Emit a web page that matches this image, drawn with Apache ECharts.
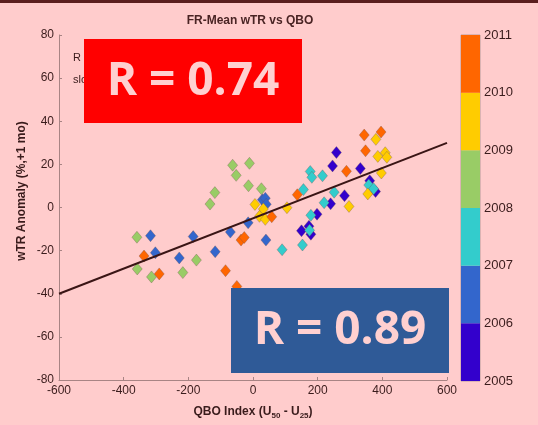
<!DOCTYPE html>
<html>
<head>
<meta charset="utf-8">
<script src="https://cdn.jsdelivr.net/npm/echarts@6/dist/echarts.min.js"></script>
<style>
html, body { margin: 0; padding: 0; background: #ffcccc; }
#chart { width: 538px; height: 425px; }
</style>
</head>
<body>
<div id="chart"></div>
<script>
// colour bar: year boundaries and the colour of each band (bottom to top)
var years = [2005, 2006, 2007, 2008, 2009, 2010, 2011];
var yearColors = ["#3300cc", "#3366cc", "#33cccc", "#99cc66", "#ffcc00", "#ff6600"];

// QBO index vs wTR anomaly, one array per year band
var pts2005 = [[150, -10.8], [173, -8.7], [179, -12.4], [198, -3.1], [240, 1.7], [246, 19.3],
               [258, 25.5], [283, 5.5], [332, 18.1], [361, 12.4], [379, 7.4]];
var pts2006 = [[-317, -13.1], [-302, -21.0], [-228, -23.4], [-185, -13.5], [-117, -20.5], [-70, -11.4],
               [-15, -7.1], [29, 3.6], [38, 4.3], [41, 1.5], [40, -15.1]];
var pts2007 = [[90, -19.6], [153, -17.4], [156, 8.3], [177, 16.7], [182, 14.0], [215, 14.7],
               [251, 7.1], [220, 2.2], [179, -3.6], [175, -10.6], [358, 10.4], [373, 8.7]];
var pts2008 = [[-359, -13.8], [-358, -28.5], [-314, -32.2], [-217, -30.2], [-175, -24.4], [-133, 1.6],
               [-118, 6.9], [-63, 19.6], [-52, 14.9], [-11, 20.5], [-14, 10.1], [26, 8.7]];
var pts2009 = [[6, 1.4], [32, -0.7], [20, -4.1], [38, -5.5], [105, -0.1], [297, 0.5],
               [380, 31.6], [386, 23.7], [409, 25.4], [414, 23.3], [397, 16.0], [355, 6.3]];
var pts2010 = [[-337, -22.5], [-290, -30.8], [-85, -29.3], [-50, -36.6], [-37, -15.1], [-27, -13.9],
               [58, -4.3], [137, 5.9], [289, 16.8], [344, 33.6], [396, 35.0], [348, 26.3]];
var groups = [pts2005, pts2006, pts2007, pts2008, pts2009, pts2010];

// regression line end points
var fitX = [-600, 600];
var fitY = [-40, 30];

var xTicks = [-600, 600, 200];
var yTicks = [-80, 80, 20];

var chart = echarts.init(document.getElementById("chart"));

var txt = "#3a1c1c";
var axisCol = "#a88484";

var series = [];
groups.forEach(function (g, i) {
    series.push({
        type: "scatter",
        xAxisIndex: 0,
        yAxisIndex: 0,
        symbol: "diamond",
        symbolSize: [10, 12],
        itemStyle: { color: yearColors[i], opacity: 1, borderColor: "rgba(110,80,80,0.55)", borderWidth: 0.6 },
        data: g,
        z: 3
    });
});
series.push({
    type: "line",
    xAxisIndex: 0,
    yAxisIndex: 0,
    data: fitX.map(function (x, i) { return [x, fitY[i]]; }),
    symbol: "none",
    lineStyle: { color: "#3a1515", width: 2 },
    z: 4
});

var bands = [];
for (var i = 0; i < yearColors.length; i++) bands.push([years[i], years[i + 1], yearColors[i]]);
series.push({
    type: "custom",
    xAxisIndex: 1,
    yAxisIndex: 1,
    data: bands,
    renderItem: function (params, api) {
        var p0 = api.coord([0, api.value(0)]);
        var p1 = api.coord([1, api.value(1)]);
        return {
            type: "rect",
            shape: { x: p0[0], y: p1[1], width: p1[0] - p0[0], height: p0[1] - p1[1] },
            style: { fill: api.value(2) }
        };
    },
    encode: { x: -1, y: [0, 1] }
});

chart.setOption({
    backgroundColor: "#ffcccc",
    animation: false,
    title: {
        text: "FR-Mean wTR vs QBO",
        left: 245,
        textAlign: "center",
        top: 10,
        textStyle: { fontFamily: "Liberation Sans", fontSize: 12, fontWeight: "bold", color: "#4a2424" }
    },
    grid: [
        { left: 59, right: 91, top: 35, bottom: 45 },
        { left: 461, width: 19, top: 35, height: 346, show: true, borderColor: "#b89a9a", borderWidth: 1 }
    ],
    xAxis: [{
        type: "value",
        gridIndex: 0,
        min: xTicks[0], max: xTicks[1], interval: xTicks[2],
        name: "{b|QBO Index (U}{s|50}{b| - U}{s|25}{b|)}",
        nameLocation: "middle",
        nameGap: 24,
        nameTextStyle: {
            rich: {
                b: { fontFamily: "Liberation Sans", fontSize: 12, fontWeight: "bold", color: txt },
                s: { fontFamily: "Liberation Sans", fontSize: 8, fontWeight: "bold", color: txt, padding: [8, 0, 0, 0] }
            }
        },
        axisLine: { onZero: false, lineStyle: { color: axisCol } },
        axisTick: { inside: true, length: 3, lineStyle: { color: axisCol } },
        axisLabel: { color: txt, fontFamily: "Liberation Sans", fontSize: 12, margin: 5 },
        splitLine: { show: false }
    }, {
        type: "value", gridIndex: 1, min: 0, max: 1, show: false
    }],
    yAxis: [{
        type: "value",
        gridIndex: 0,
        min: yTicks[0], max: yTicks[1], interval: yTicks[2],
        axisLine: { show: true, onZero: false, lineStyle: { color: axisCol } },
        axisTick: { show: true, inside: true, length: 3, lineStyle: { color: axisCol } },
        axisLabel: { color: txt, fontFamily: "Liberation Sans", fontSize: 12, margin: 5 },
        splitLine: { show: false }
    }, {
        type: "value",
        gridIndex: 1,
        min: years[0], max: years[years.length - 1], interval: 1,
        position: "right",
        axisLine: { show: false },
        axisTick: { show: false },
        axisLabel: {
            color: txt, fontFamily: "Liberation Sans", fontSize: 13, margin: 4,
            formatter: function (v) { return String(v); }
        },
        splitLine: { show: false }
    }],
    graphic: [
        { type: "rect", left: 0, top: 0, shape: { width: 538, height: 3 }, style: { fill: "#5a1e1e" }, z: 50 },
        {
            type: "text", x: 22, y: 191, rotation: Math.PI / 2,
            style: { text: "wTR Anomaly (%,+1 mo)", fill: txt, font: "bold 12px 'Liberation Sans'", align: "center", verticalAlign: "middle" }
        },
        { type: "text", x: 73, y: 52, style: { text: "R = 0.74", fill: txt, font: "11px 'Liberation Sans'" }, z: 10 },
        { type: "text", x: 73, y: 74, style: { text: "slope = 0.058", fill: txt, font: "11px 'Liberation Sans'" }, z: 10 },
        { type: "rect", shape: { x: 84, y: 39, width: 218, height: 84 }, style: { fill: "#ff0000" }, z: 100 },
        {
            type: "text", x: 193, y: 82, z: 101,
            style: { text: "R = 0.74", fill: "#ffd0d0", font: "bold 46px 'Open Sans'", align: "center", verticalAlign: "middle" }
        },
        { type: "rect", shape: { x: 231, y: 288, width: 218, height: 85 }, style: { fill: "#2f5a97" }, z: 100 },
        {
            type: "text", x: 340, y: 331, z: 101,
            style: { text: "R = 0.89", fill: "#ffd0d0", font: "bold 46px 'Open Sans'", align: "center", verticalAlign: "middle" }
        }
    ],
    series: series
});

window.onresize = function () {
    chart.resize();
};
</script>
</body>
</html>
